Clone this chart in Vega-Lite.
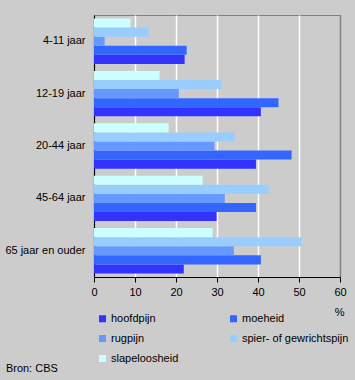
{
  "$schema": "https://vega.github.io/schema/vega-lite/v6.json",
  "autosize": "none",
  "width": 246,
  "height": 262,
  "padding": {"left": 94, "top": 15, "right": 15, "bottom": 103},
  "background": "#cccccc",
  "config": {
    "font": "Liberation Sans",
    "view": {"stroke": "#808080", "strokeWidth": 1, "fill": "#cccccc"}
  },
  "title": {
    "text": "Bron: CBS",
    "orient": "bottom",
    "anchor": "start",
    "frame": "bounds",
    "fontSize": 11,
    "fontWeight": "normal",
    "color": "#000000",
    "font": "Liberation Sans",
    "offset": -1,
    "dx": 1
  },
  "data": {
    "values": [
      {"leeftijd": "4-11 jaar", "klacht": "hoofdpijn", "pct": 22.1},
      {"leeftijd": "4-11 jaar", "klacht": "moeheid", "pct": 22.6},
      {"leeftijd": "4-11 jaar", "klacht": "rugpijn", "pct": 2.6},
      {"leeftijd": "4-11 jaar", "klacht": "spier- of gewrichtspijn", "pct": 13.3},
      {"leeftijd": "4-11 jaar", "klacht": "slapeloosheid", "pct": 8.9},
      {"leeftijd": "12-19 jaar", "klacht": "hoofdpijn", "pct": 40.7},
      {"leeftijd": "12-19 jaar", "klacht": "moeheid", "pct": 45.0},
      {"leeftijd": "12-19 jaar", "klacht": "rugpijn", "pct": 20.7},
      {"leeftijd": "12-19 jaar", "klacht": "spier- of gewrichtspijn", "pct": 31.1},
      {"leeftijd": "12-19 jaar", "klacht": "slapeloosheid", "pct": 16.0},
      {"leeftijd": "20-44 jaar", "klacht": "hoofdpijn", "pct": 39.5},
      {"leeftijd": "20-44 jaar", "klacht": "moeheid", "pct": 48.2},
      {"leeftijd": "20-44 jaar", "klacht": "rugpijn", "pct": 29.4},
      {"leeftijd": "20-44 jaar", "klacht": "spier- of gewrichtspijn", "pct": 34.3},
      {"leeftijd": "20-44 jaar", "klacht": "slapeloosheid", "pct": 18.2},
      {"leeftijd": "45-64 jaar", "klacht": "hoofdpijn", "pct": 29.9},
      {"leeftijd": "45-64 jaar", "klacht": "moeheid", "pct": 39.5},
      {"leeftijd": "45-64 jaar", "klacht": "rugpijn", "pct": 31.9},
      {"leeftijd": "45-64 jaar", "klacht": "spier- of gewrichtspijn", "pct": 42.6},
      {"leeftijd": "45-64 jaar", "klacht": "slapeloosheid", "pct": 26.5},
      {"leeftijd": "65 jaar en ouder", "klacht": "hoofdpijn", "pct": 21.9},
      {"leeftijd": "65 jaar en ouder", "klacht": "moeheid", "pct": 40.7},
      {"leeftijd": "65 jaar en ouder", "klacht": "rugpijn", "pct": 34.1},
      {"leeftijd": "65 jaar en ouder", "klacht": "spier- of gewrichtspijn", "pct": 50.6},
      {"leeftijd": "65 jaar en ouder", "klacht": "slapeloosheid", "pct": 28.9}
    ]
  },
  "mark": {"type": "bar"},
  "encoding": {
    "y": {
      "field": "leeftijd",
      "type": "nominal",
      "sort": ["4-11 jaar", "12-19 jaar", "20-44 jaar", "45-64 jaar", "65 jaar en ouder"],
      "scale": {"paddingInner": 0.134, "paddingOuter": 0.067},
      "axis": {
        "title": null,
        "ticks": false,
        "labelPadding": 9,
        "labelFontSize": 11,
        "labelColor": "#000000",
        "domainColor": "#000000",
        "domainWidth": 1
      }
    },
    "yOffset": {
      "field": "klacht",
      "type": "nominal",
      "sort": ["slapeloosheid", "spier- of gewrichtspijn", "rugpijn", "moeheid", "hoofdpijn"],
      "scale": {"paddingInner": 0, "paddingOuter": 0}
    },
    "x": {
      "field": "pct",
      "type": "quantitative",
      "scale": {"domain": [0, 60], "nice": false},
      "axis": {
        "values": [0, 10, 20, 30, 40, 50, 60],
        "title": "%",
        "titleFontSize": 11,
        "titleFontWeight": "normal",
        "titleColor": "#000000",
        "titleAnchor": "end",
        "titleAlign": "right",
        "titleX": 250,
        "titleY": 29,
        "labelFontSize": 11,
        "labelColor": "#000000",
        "labelPadding": 4,
        "labelFlush": false,
        "tickSize": 5,
        "tickColor": "#000000",
        "domainColor": "#000000",
        "grid": true,
        "gridColor": {"condition": {"test": "datum.value == 60 || datum.value == 0", "value": "#808080"}, "value": "#ffffff"},
        "gridWidth": 1.5
      }
    },
    "color": {
      "field": "klacht",
      "type": "nominal",
      "scale": {
        "domain": ["hoofdpijn", "rugpijn", "slapeloosheid", "moeheid", "spier- of gewrichtspijn"],
        "range": ["#3333ff", "#6699ff", "#ccffff", "#3366ff", "#99ccff"]
      },
      "legend": {
        "title": null,
        "orient": "none",
        "legendX": 3,
        "legendY": 298,
        "columns": 2,
        "columnPadding": 49,
        "rowPadding": 8,
        "symbolType": "square",
        "symbolSize": 49,
        "symbolStrokeWidth": 0,
        "labelFontSize": 11,
        "labelColor": "#000000",
        "labelOffset": 3,
        "labelLimit": 200,
        "padding": 0
      }
    }
  }
}
